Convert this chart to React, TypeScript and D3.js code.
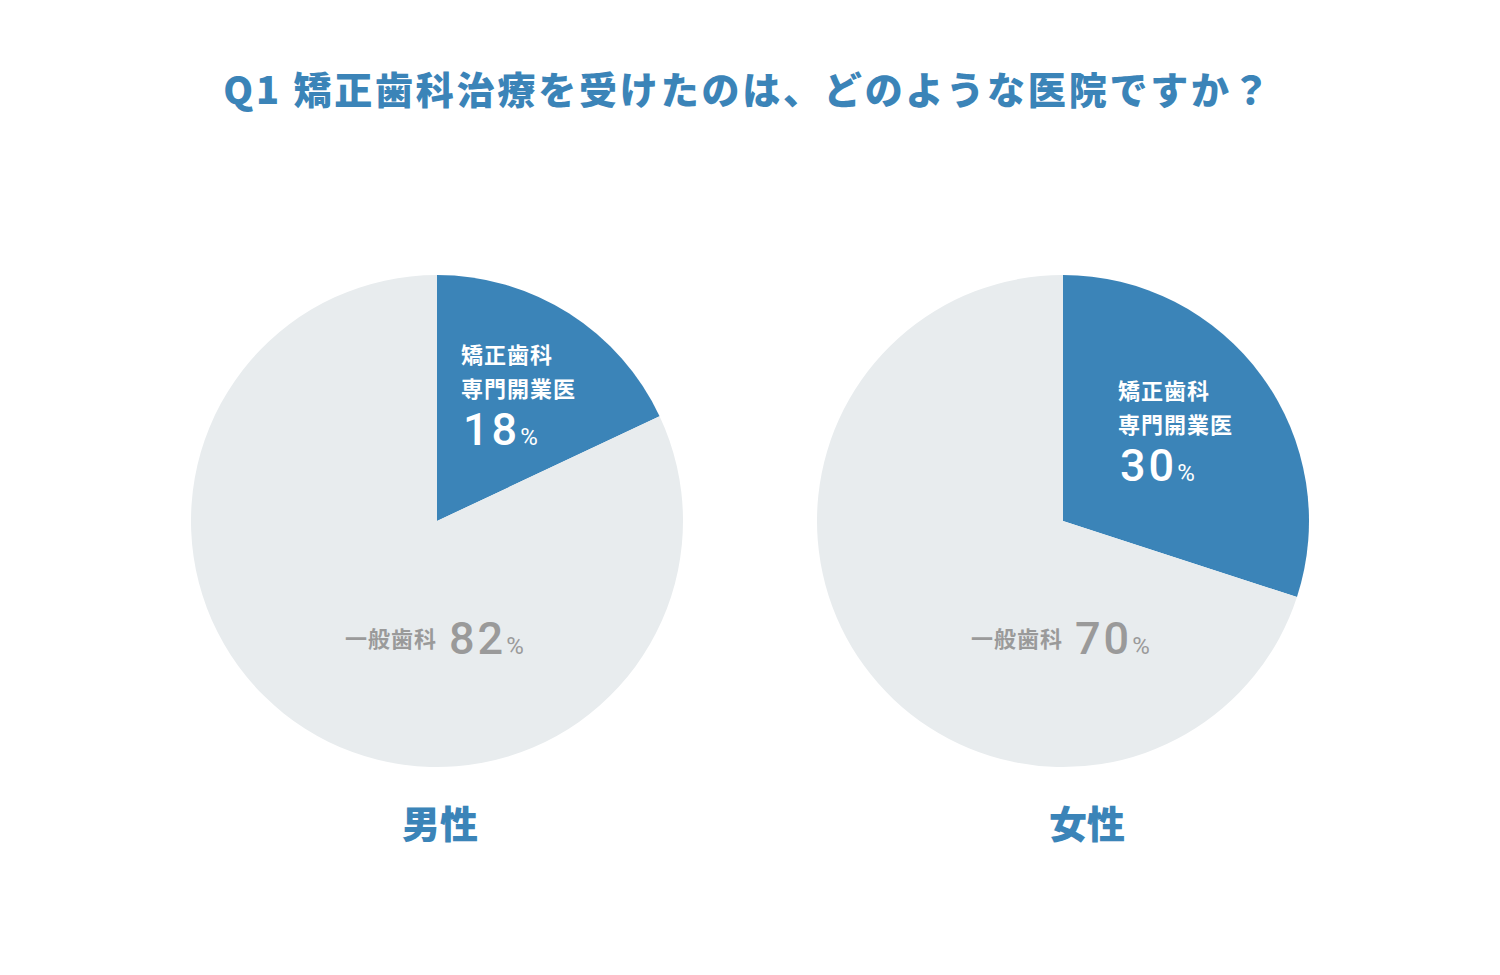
import React from "react";
import * as d3 from "d3";

const TITLE = "Q1 矯正歯科治療を受けたのは、どのような医院ですか？";
const groups = ["男性", "女性"];
const categories = ["矯正歯科専門開業医", "一般歯科"];
const specialistValues = [18, 30];
const generalValues = [82, 70];

const BLUE = "#3b84b8";
const GRAY_FILL = "#e8ecee";
const GRAY_TEXT = "#9a9a9a";
const JP = "'Noto Sans CJK JP', 'Noto Sans', sans-serif";
const NUM = "Roboto, 'Liberation Sans', Arial, sans-serif";

const W = 1500, H = 975;
const R = 246;
const centersX = [437, 1063];
const CY = 521;

export default function App() {
  const pie = d3.pie<number>().sort(null).value((d) => d);
  const arc = d3.arc<d3.PieArcDatum<number>>().innerRadius(0).outerRadius(R);
  const blueLabelY = [363, 399];
  const blueLabelX = [461, 1118];
  const grayLabelX = [345, 971];
  return (
    <svg width={W} height={H} style={{ position: "absolute", left: 0, top: 0, background: "#fff" }}>
      <text x={748} y={104} textAnchor="middle" fill={BLUE} fontFamily={JP} fontWeight={900} fontSize={38} letterSpacing={2.8}>
        {TITLE}
      </text>
      {groups.map((g, i) => {
        const arcs = pie([specialistValues[i], generalValues[i]]);
        return (
          <g key={g}>
            <g transform={`translate(${centersX[i]},${CY})`}>
              {arcs.map((a, j) => (
                <path key={j} d={arc(a) || ""} fill={j === 0 ? BLUE : GRAY_FILL} />
              ))}
            </g>
            <text x={blueLabelX[i]} y={blueLabelY[i]} fill="#fff" fontFamily={JP} fontWeight={700} fontSize={22} letterSpacing={1}>
              {categories[0].slice(0, 4)}
            </text>
            <text x={blueLabelX[i]} y={blueLabelY[i] + 34} fill="#fff" fontFamily={JP} fontWeight={700} fontSize={22} letterSpacing={1}>
              {categories[0].slice(4)}
            </text>
            <text x={blueLabelX[i] + 2} y={blueLabelY[i] + 82} fill="#fff" fontFamily={NUM} fontWeight={500}>
              <tspan fontSize={45} letterSpacing={3}>{specialistValues[i]}</tspan>
              <tspan fontSize={24} fontWeight={400}>%</tspan>
            </text>
            <text x={grayLabelX[i]} y={647} fill={GRAY_TEXT} fontFamily={JP} fontWeight={700} fontSize={22} letterSpacing={1}>
              {categories[1]}
            </text>
            <text x={grayLabelX[i] + 104} y={654} fill={GRAY_TEXT} fontFamily={NUM} fontWeight={500}>
              <tspan fontSize={45} letterSpacing={3}>{generalValues[i]}</tspan>
              <tspan fontSize={24} fontWeight={400}>%</tspan>
            </text>
            <text x={centersX[i] + [3, 24][i]} y={838} textAnchor="middle" fill={BLUE} fontFamily={JP} fontWeight={900} fontSize={38}>
              {g}
            </text>
          </g>
        );
      })}
    </svg>
  );
}
